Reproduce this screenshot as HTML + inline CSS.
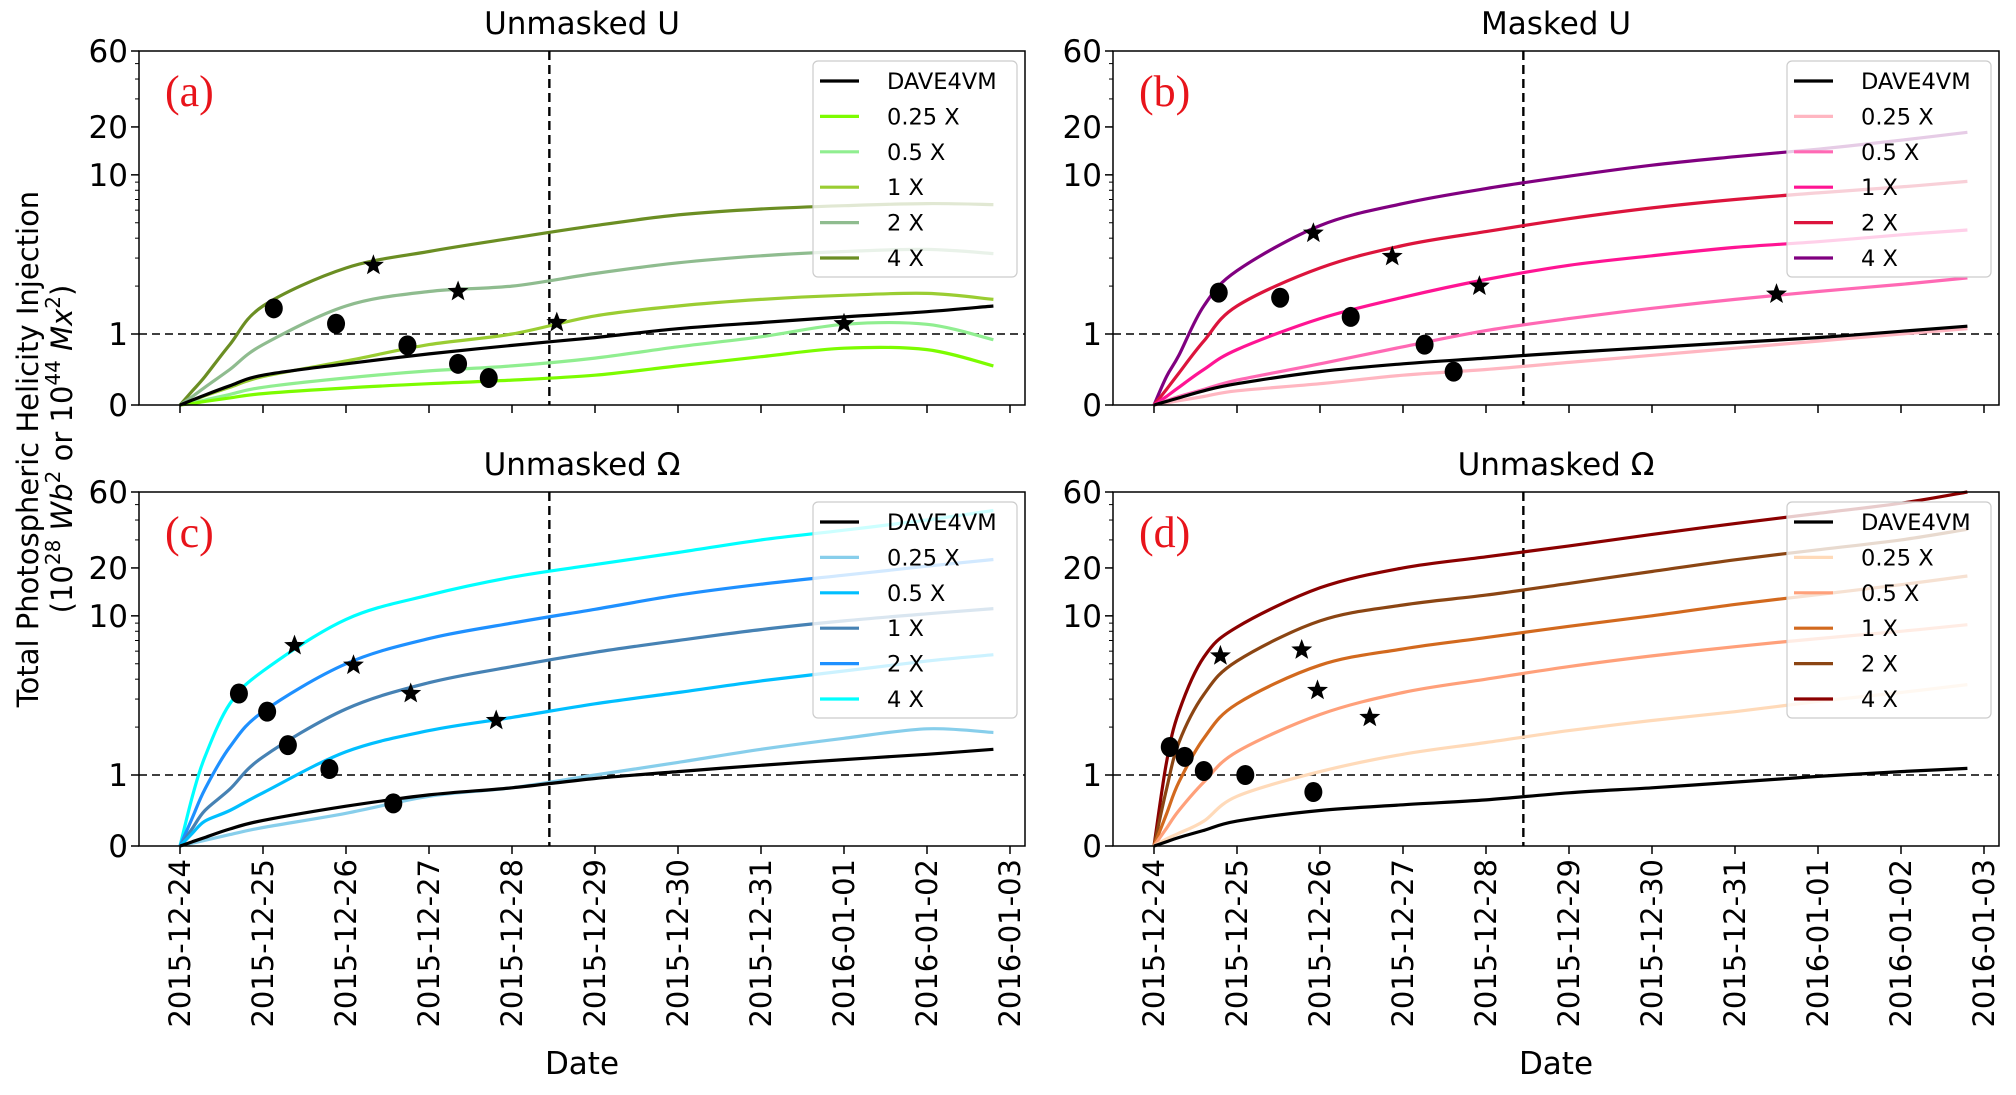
<!DOCTYPE html>
<html><head><meta charset="utf-8"><style>
body{margin:0;background:#fff;}
svg{display:block;font-family:"DejaVu Sans","Liberation Sans",sans-serif;}
</style></head><body>
<svg id="fig" width="2016" height="1095" viewBox="0 0 2016 1095" xmlns="http://www.w3.org/2000/svg">
<text x="38" y="449" transform="rotate(-90 38 449)" text-anchor="middle" font-size="29">Total Photospheric Helicity Injection</text>
<text x="72" y="449" transform="rotate(-90 72 449)" text-anchor="middle" font-size="29">(10<tspan baseline-shift="super" font-size="20">28</tspan> <tspan font-style="italic">Wb</tspan><tspan baseline-shift="super" font-size="20">2</tspan> or 10<tspan baseline-shift="super" font-size="20">44</tspan> <tspan font-style="italic">Mx</tspan><tspan baseline-shift="super" font-size="20">2</tspan>)</text>
</svg>
<script>
const dateLabels=["2015-12-24","2015-12-25","2015-12-26","2015-12-27","2015-12-28","2015-12-29","2015-12-30","2015-12-31","2016-01-01","2016-01-02","2016-01-03"];
const yTicks=[0,1,10,20,60];
const seriesNames=["DAVE4VM","0.25 X","0.5 X","1 X","2 X","4 X"];
const flareDay=4.45;
const days=[0,0.15,0.3,0.6,1,2,3,4,5,6,7,8,9,9.8];
// panel a
const aDave=[0,0.07,0.14,0.27,0.42,0.58,0.72,0.84,0.95,1.08,1.18,1.28,1.38,1.5];
const a025=[0,0.02,0.05,0.1,0.16,0.24,0.3,0.35,0.42,0.55,0.68,0.8,0.78,0.55];
const a05=[0,0.03,0.07,0.15,0.25,0.38,0.48,0.55,0.66,0.82,0.96,1.15,1.15,0.92];
const a1=[0,0.06,0.13,0.25,0.4,0.62,0.85,1.0,1.3,1.5,1.65,1.75,1.8,1.65];
const a2=[0,0.12,0.25,0.5,0.85,1.5,1.85,2.0,2.4,2.8,3.1,3.3,3.4,3.2];
const a4=[0,0.2,0.4,0.85,1.5,2.6,3.3,4.0,4.8,5.6,6.1,6.4,6.6,6.5];
// panel b
const bDave=[0,0.05,0.1,0.2,0.3,0.47,0.58,0.66,0.74,0.81,0.88,0.95,1.04,1.12];
const b025=[0,0.03,0.06,0.12,0.2,0.3,0.42,0.5,0.6,0.7,0.8,0.9,1.0,1.08];
const b05=[0,0.06,0.12,0.22,0.35,0.58,0.82,1.05,1.25,1.45,1.65,1.85,2.05,2.25];
const b1=[0,0.12,0.25,0.5,0.78,1.25,1.7,2.2,2.7,3.1,3.5,3.8,4.2,4.5];
const b2=[0,0.22,0.45,0.9,1.5,2.6,3.6,4.4,5.3,6.2,7,7.7,8.4,9.1];
const b4=[0,0.4,0.7,1.5,2.5,4.8,6.6,8.2,9.8,11.5,13,14.5,16.5,18.5];
// panel c
const cDave=[0,0.06,0.12,0.24,0.36,0.56,0.72,0.82,0.95,1.05,1.15,1.25,1.35,1.45];
const c025=[0,0.04,0.08,0.16,0.26,0.46,0.7,0.82,1.0,1.2,1.45,1.7,1.95,1.85];
const c05=[0,0.18,0.35,0.5,0.75,1.4,1.9,2.3,2.8,3.3,3.9,4.5,5.2,5.7];
const c1=[0,0.25,0.5,0.8,1.3,2.6,3.8,4.8,5.9,7,8.2,9.3,10.3,11.1];
const c2=[0,0.4,0.8,1.5,2.5,5,7.2,9,11,13.5,15.8,18,20.5,22.6];
const c4=[0,0.7,1.3,2.8,4.5,9.5,13.5,17.5,21,25,30,34.5,40,46];
// panel d
const dDave=[0,0.06,0.12,0.22,0.35,0.5,0.58,0.65,0.75,0.82,0.9,0.98,1.05,1.1];
const d025=[0,0.1,0.18,0.35,0.7,1.05,1.35,1.6,1.9,2.2,2.5,2.9,3.3,3.7];
const d05=[0,0.25,0.5,0.9,1.4,2.4,3.3,4.0,4.8,5.6,6.4,7.2,8,8.8];
const d1=[0,0.45,0.9,1.7,2.8,4.9,6.2,7.3,8.6,10,11.8,13.6,15.7,17.8];
const d2=[0,0.8,1.6,3.2,5.2,9.3,11.7,13.5,16,19,22.5,26,30,35];
const d4=[0,1.2,2.5,5.5,8.5,15,20,23.5,27.5,32.5,38,44,51,60];
// markers [day, value]
const aCircles=[[1.13,1.45],[1.88,1.16],[2.74,0.84],[3.35,0.58],[3.72,0.38]];
const aStars=[[2.33,2.7],[3.35,1.85],[4.54,1.18],[8.0,1.16]];
const bCircles=[[0.78,1.82],[1.52,1.69],[2.37,1.28],[3.26,0.85],[3.61,0.47]];
const bStars=[[1.92,4.3],[2.87,3.07],[3.92,2.0],[7.5,1.78]];
const cCircles=[[0.71,3.25],[1.05,2.5],[1.3,1.54],[1.8,1.09],[2.57,0.6]];
const cStars=[[1.38,6.5],[2.09,4.9],[2.78,3.25],[3.81,2.2]];
const dCircles=[[0.19,1.5],[0.37,1.3],[0.6,1.06],[1.1,1.0],[1.92,0.76]];
const dStars=[[0.8,5.6],[1.78,6.1],[1.97,3.4],[2.6,2.3]];

const NS="http://www.w3.org/2000/svg";
const svg=document.getElementById('fig');
function mk(tag,attrs,parent){const e=document.createElementNS(NS,tag);for(const k in attrs)e.setAttribute(k,attrs[k]);(parent||svg).appendChild(e);return e;}

const panels=[
 {id:'a',title:'Unmasked U',L:139,T:51,bottom:false,series:[aDave,a025,a05,a1,a2,a4],colors:['#000','#7cfc00','#90ee90','#9acd32','#8fbc8f','#6b8e23'],circ:aCircles,stars:aStars},
 {id:'b',title:'Masked U',L:1113,T:51,bottom:false,series:[bDave,b025,b05,b1,b2,b4],colors:['#000','#ffb6c1','#ff69b4','#ff1493','#dc143c','#800080'],circ:bCircles,stars:bStars},
 {id:'c',title:'Unmasked \u03a9',L:139,T:492,bottom:true,series:[cDave,c025,c05,c1,c2,c4],colors:['#000','#87ceeb','#00bfff','#4682b4','#1e90ff','#00ffff'],circ:cCircles,stars:cStars},
 {id:'d',title:'Unmasked \u03a9',L:1113,T:492,bottom:true,series:[dDave,d025,d05,d1,d2,d4],colors:['#000','#ffdab9','#ffa07a','#d2691e','#8b4513','#8b0000'],circ:dCircles,stars:dStars}
];
const W=886,H=354,LIN=71,DEC=(H-LIN)/Math.log10(60);

function starPath(cx,cy,R){let p='';for(let i=0;i<10;i++){const r=i%2?R*0.42:R;const a=-Math.PI/2+i*Math.PI/5;p+=(i?'L':'M')+(cx+r*Math.cos(a)).toFixed(1)+','+(cy+r*Math.sin(a)).toFixed(1);}return p+'Z';}
function smooth(pts){let d='M'+pts[0][0].toFixed(1)+','+pts[0][1].toFixed(1);
 for(let i=0;i<pts.length-1;i++){const p0=pts[Math.max(0,i-1)],p1=pts[i],p2=pts[i+1],p3=pts[Math.min(pts.length-1,i+2)];
  const c1x=p1[0]+(p2[0]-p0[0])/6,c1y=p1[1]+(p2[1]-p0[1])/6,c2x=p2[0]-(p3[0]-p1[0])/6,c2y=p2[1]-(p3[1]-p1[1])/6;
  d+=`C${c1x.toFixed(1)},${c1y.toFixed(1)} ${c2x.toFixed(1)},${c2y.toFixed(1)} ${p2[0].toFixed(1)},${p2[1].toFixed(1)}`;}
 return d;}

panels.forEach(P=>{
 const g=mk('g',{});
 
 
 const B=P.T+H;
 const X=d=>P.L+41+d*83;
 const Y=v=>v<=1?B-v*LIN:B-LIN-Math.log10(v)*DEC;
 const t=mk('text',{x:P.L+W/2,y:P.T-17,'text-anchor':'middle','font-size':31},g);t.textContent=P.title;
 
 
 const hl=mk('line',{x1:P.L,x2:P.L+W,y1:Y(1),y2:Y(1),stroke:'#000','stroke-width':1.6,'stroke-dasharray':'8,5'},g);
 
 
 const vl=mk('line',{x1:X(flareDay),x2:X(flareDay),y1:P.T,y2:B,stroke:'#000','stroke-width':2.4,'stroke-dasharray':'9,5'},g);
 
 
 const order=[5,4,3,2,1,0];
 order.forEach(i=>{
  const s=P.series[i];
  const pts=s.map((v,k)=>[X(days[k]),Y(v)]);
  const pl=mk('path',{d:smooth(pts),fill:'none',stroke:P.colors[i],'stroke-width':3.2,'stroke-linejoin':'round'},g);
  
  
 });
 P.circ.forEach(c=>{const e=mk('ellipse',{cx:X(c[0]),cy:Y(c[1]),rx:9,ry:10,fill:'#000'},g);
  
  });
 P.stars.forEach(c=>{const e=mk('path',{d:starPath(X(c[0]),Y(c[1]),11),fill:'#000'},g);
  
  });
 const fr=mk('rect',{x:P.L,y:P.T,width:W,height:H,fill:'none',stroke:'#000','stroke-width':1.5},g);
 
 
 yTicks.forEach(v=>{mk('line',{x1:P.L-8,x2:P.L,y1:Y(v),y2:Y(v),stroke:'#000','stroke-width':1.5},g);
  const tt=mk('text',{x:P.L-11,y:Y(v)+11,'text-anchor':'end','font-size':31},g);tt.textContent=v;
  
  });
 [2,3,4,5,6,7,8,9,30,40,50].forEach(v=>mk('line',{x1:P.L-4,x2:P.L,y1:Y(v),y2:Y(v),stroke:'#000','stroke-width':1},g));
 dateLabels.forEach((lab,i)=>{const x=X(i);
  mk('line',{x1:x,x2:x,y1:B,y2:B+8,stroke:'#000','stroke-width':1.5},g);
  if(P.bottom){const tt=mk('text',{x:x+10,y:B+13,'text-anchor':'end','font-size':29,transform:`rotate(-90 ${x+10} ${B+13})`},g);tt.textContent=lab;
   
   }
 });
 if(P.bottom){const xt=mk('text',{x:P.L+W/2,y:1074,'text-anchor':'middle','font-size':31},g);xt.textContent='Date';
  
  }
 const pl=mk('text',{x:P.L+26,y:P.T+55,'font-size':44,fill:'#e8141b','font-family':'"Liberation Serif",serif'},g);pl.textContent='('+P.id+')';
 
 
 const lg=mk('g',{},g);
 
 
 mk('rect',{x:P.L+674,y:P.T+10,width:204,height:216,rx:5,fill:'#fff','fill-opacity':0.8,stroke:'#ccc','stroke-width':1.2},lg);
 seriesNames.forEach((n,i)=>{const yy=P.T+30+i*35.4;
  const ln=mk('line',{x1:P.L+681,x2:P.L+720,y1:yy,y2:yy,stroke:P.colors[i],'stroke-width':3.2},lg);
  
  
  const tx=mk('text',{x:P.L+748,y:yy+8,'font-size':22.5},lg);tx.textContent=n;
  
  
 });
});
</script>
</body></html>
